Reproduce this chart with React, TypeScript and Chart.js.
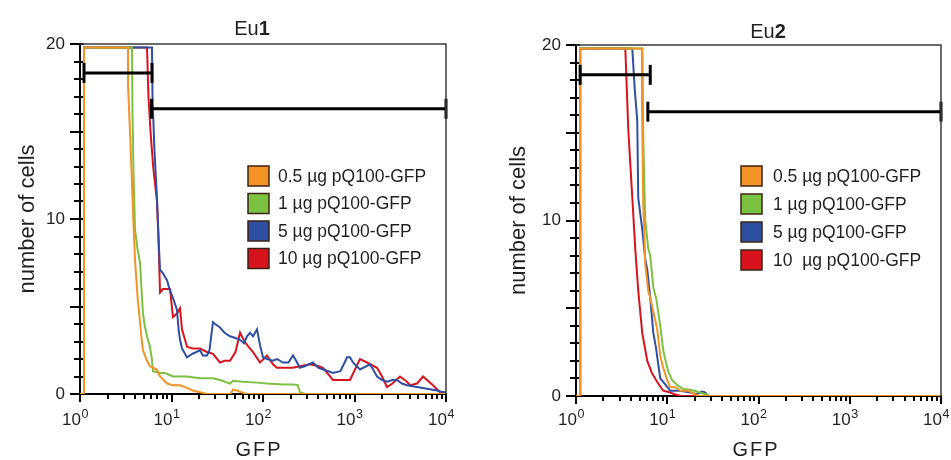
import React, { useEffect, useRef } from 'react';
import { Chart, registerables } from 'chart.js';

Chart.register(...registerables);

type Pt = [number, number];

// ---------- data ----------
const seriesLabelsEu1 = ['0.5 µg pQ100-GFP', '1 µg pQ100-GFP', '5 µg pQ100-GFP', '10 µg pQ100-GFP'];
const seriesLabelsEu2 = ['0.5 µg pQ100-GFP', '1 µg pQ100-GFP', '5 µg pQ100-GFP', '10  µg pQ100-GFP'];
const seriesColors = ['#f39325', '#7cc242', '#2f4fa2', '#d7141e'];
const xTickExponents = [0, 1, 2, 3, 4];
const yLabelValues = [0, 10, 20];

const eu1Dose05: Pt[] = [[1,0],[1.106,0],[1.106,19.8],[3.35,19.8],[3.35,17.6],[3.55,14.5],[3.7,12],[3.85,9.6],[4.0,7.6],[4.25,5.6],[4.53,4.1],[4.7,3.2],[4.88,2.5],[5.4,1.9],[5.8,1.6],[6.28,1.5],[6.9,1.4],[7.5,1.0],[8.93,0.6],[10.4,0.5],[12.4,0.5],[14.77,0.35],[17,0.2],[20.5,0.1],[24.4,0],[44,0],[47,0.25],[52,0.2],[58,0.1],[66,0],[10000,0]];
const eu1Dose1: Pt[] = [[1,0],[1.106,0],[1.106,19.8],[3.7,19.8],[3.75,16],[3.85,12.5],[3.99,9.4],[4.25,8.3],[4.53,7.5],[4.7,6],[4.88,4.6],[5.1,3.9],[5.4,3.3],[5.82,2.7],[6.1,2.0],[6.28,1.3],[7.49,1.2],[8.5,1.2],[10.38,1.0],[14.77,1.0],[20.5,0.9],[28.4,0.9],[33.9,0.8],[43.6,0.6],[47,0.75],[60,0.7],[86,0.65],[110.7,0.6],[165.5,0.55],[212.8,0.55],[240,0.5],[253.7,0.1],[290,0],[10000,0]];
const eu1Dose5: Pt[] = [[1,0],[1.106,0],[1.106,19.8],[6.12,19.8],[6.2,17],[6.5,14],[6.94,11.2],[7.2,9],[7.49,7.1],[8.07,6.9],[8.93,6.5],[9.63,5.9],[10.38,5.5],[11.48,4.8],[12.0,3.6],[12.39,3.1],[13.03,2.6],[14.77,2.1],[17,2.3],[20.5,2.5],[22,2.2],[24.4,2.2],[26,2.5],[28.4,4.1],[30,4.0],[33.9,3.8],[38,3.5],[43.6,3.3],[50,3.2],[56.1,3.1],[62,2.9],[66.9,3.3],[72.1,3.5],[77.8,3.3],[86,3.7],[92.7,2.8],[100,2.1],[110.7,2.0],[128.6,1.9],[142.2,2.0],[165.5,1.8],[190,1.8],[212.8,2.2],[230,1.9],[253.7,1.5],[290,1.6],[351.8,1.8],[400,1.5],[452.6,1.4],[520,1.3],[582,1.2],[700,1.3],[780,1.8],[828,2.1],[893,2.1],[963,1.8],[1148,1.4],[1250,1.5],[1477,1.7],[1600,1.4],[1762,1.0],[2000,0.8],[2266,0.7],[2600,0.8],[2912,0.8],[3300,0.6],[3748,0.5],[4823,0.4],[6200,0.3],[8000,0.2],[9270,0.1],[10000,0.1]];
const eu1Dose10: Pt[] = [[1,0],[1.106,0],[1.106,19.8],[5.4,19.8],[5.6,17],[5.9,15],[6.3,13],[6.94,11],[7.2,9],[7.49,5.8],[8.07,6],[9.63,6.0],[10.38,4.4],[11.48,4.6],[12.39,4.9],[13.03,3.7],[14.77,2.7],[17,2.6],[20.5,2.6],[24.4,2.4],[28.4,2.3],[33.9,1.8],[38,1.9],[43.6,1.9],[50,2.4],[56.1,3.5],[60,3.2],[66.9,2.8],[77.8,2.4],[92.7,1.8],[110.7,2.2],[128.6,1.7],[142.2,1.5],[212.8,1.5],[260,1.6],[326.3,1.7],[400,1.6],[452.6,1.5],[582,0.8],[893,0.8],[1148,2.0],[1370,1.8],[1762,1.5],[2000,1.0],[2266,0.4],[2600,0.6],[3141,1.0],[3748,0.7],[4045,0.5],[4823,0.6],[5610,1.0],[6200,0.8],[7210,0.5],[8590,0.1],[10000,0.1]];

const eu2Dose05: Pt[] = [[1,0],[1.11,0],[1.11,19.8],[5.28,19.8],[5.28,16.8],[5.4,13],[5.46,11],[5.74,7.5],[6.19,6.0],[6.51,5.6],[7.03,4.8],[7.77,3.8],[8.38,2.3],[9.04,1.6],[10,0.9],[10.78,0.5],[12.24,0.5],[14,0.3],[17,0.3],[20,0.1],[23,0],[10000,0]];
const eu2Dose1: Pt[] = [[1,0],[1.11,0],[1.11,19.8],[5.35,19.8],[5.45,15],[5.6,12.2],[5.74,10],[6.19,8.4],[6.51,8],[7.03,6.2],[7.6,5.5],[8.38,4.0],[9.04,2.6],[9.49,2.1],[10.25,1.4],[11.3,0.9],[13,0.6],[15,0.4],[18,0.35],[23,0.2],[29.5,0],[10000,0]];
const eu2Dose5: Pt[] = [[1,0],[1.11,0],[1.11,19.8],[4.14,19.8],[4.4,17.5],[4.69,15.7],[4.81,11.3],[5.32,9.5],[5.74,7.8],[6.04,7.2],[6.51,5.6],[7.03,3.6],[7.5,2.8],[8.38,1.0],[9.04,0.8],[10.78,0.3],[13.7,0.3],[18,0.2],[21,0.1],[24,0.25],[26,0.2],[28,0],[10000,0]];
const eu2Dose10: Pt[] = [[1,0],[1.11,0],[1.11,19.8],[3.47,19.8],[3.74,15.2],[4.14,11.3],[4.46,8.4],[4.81,6],[5.32,3.6],[6.04,2.0],[6.8,1.3],[7.77,0.8],[9.04,0.3],[10.78,0.2],[12,0.1],[14,0],[10000,0]];

const eu1GateLow: Pt[] = [[1.106,18.35],[6.12,18.35]];
const eu1GateHigh: Pt[] = [[6.05,16.3],[10000,16.3]];
const eu2GateLow: Pt[] = [[1.11,18.3],[6.51,18.3]];
const eu2GateHigh: Pt[] = [[6.13,16.2],[10000,16.2]];

const FONT = "'Liberation Sans', Arial, Helvetica, sans-serif";
const TEXT = '#231f20';

type PanelCfg = {
  titleMain: string;
  titleBold: string;
  titleX: number;
  titleY: number;
  xTitleX: number;
  series: Pt[][];
  labels: string[];
  gates: Pt[][];
  yAxisW: number;
  xAxisH: number;
  padRight: number;
  padTop: number;
  yTitlePad: number;
  legendX: number;
  legendY: number;
  legendStep: number;
  legendTextX: number;
  width: number;
  left: number;
};

const panels: PanelCfg[] = [
  {
    titleMain: 'Eu', titleBold: '1', titleX: 252, titleY: 29, xTitleX: 258,
    series: [eu1Dose05, eu1Dose1, eu1Dose5, eu1Dose10], labels: seriesLabelsEu1,
    gates: [eu1GateLow, eu1GateHigh],
    yAxisW: 80, xAxisH: 66, padRight: 29, padTop: 44, yTitlePad: 15,
    legendX: 248, legendY: 176, legendStep: 27.5, legendTextX: 278,
    width: 475, left: 0,
  },
  {
    titleMain: 'Eu', titleBold: '2', titleX: 293, titleY: 32, xTitleX: 280,
    series: [eu2Dose05, eu2Dose1, eu2Dose5, eu2Dose10], labels: seriesLabelsEu2,
    gates: [eu2GateLow, eu2GateHigh],
    yAxisW: 101, xAxisH: 64, padRight: 10, padTop: 45, yTitlePad: 31,
    legendX: 266, legendY: 176, legendStep: 28, legendTextX: 298,
    width: 476, left: 475,
  },
];

function Panel({ cfg }: { cfg: PanelCfg }) {
  const ref = useRef<HTMLCanvasElement | null>(null);
  useEffect(() => {
    const canvas = ref.current!;
    const datasets: any[] = [];
    cfg.gates.forEach((g) => {
      datasets.push({
        label: '_gate',
        data: g.map(([x, y]) => ({ x, y })),
        borderColor: '#000',
        borderWidth: 3,
        pointStyle: 'line',
        pointRadius: 10,
        pointRotation: 90,
        pointBorderWidth: 3,
        pointBorderColor: '#000',
        pointBackgroundColor: '#000',
        clip: false,
        order: -1,
      });
    });
    cfg.series.forEach((s, i) => {
      datasets.push({
        label: cfg.labels[i],
        data: s.map(([x, y]) => ({ x, y })),
        borderColor: seriesColors[i],
        borderWidth: 2,
        pointRadius: 0,
        tension: 0,
        fill: false,
        order: i,
      });
    });

    const decor = {
      id: 'decor',
      beforeDatasetsDraw(chart: any) {
        const ctx = chart.ctx as CanvasRenderingContext2D;
        const a = chart.chartArea;
        const xs = chart.scales.x;
        const ys = chart.scales.y;
        ctx.save();
        ctx.strokeStyle = '#000';
        ctx.lineWidth = 2;
        ctx.beginPath();
        for (let v = 0; v <= 20; v++) {
          const y = Math.round(ys.getPixelForValue(v));
          const len = v % 5 === 0 ? 10 : 6;
          ctx.moveTo(a.left - len, y);
          ctx.lineTo(a.left + 4, y);
        }
        for (let d = 0; d < 4; d++) {
          for (let m = 1; m <= 10; m++) {
            const px = Math.round(xs.getPixelForValue(m * Math.pow(10, d)));
            const len = m === 1 || m === 10 ? 8 : 5;
            ctx.moveTo(px, a.bottom);
            ctx.lineTo(px, a.bottom + len);
          }
        }
        ctx.stroke();
        ctx.restore();
      },
      afterDraw(chart: any) {
        const ctx = chart.ctx as CanvasRenderingContext2D;
        const a = chart.chartArea;
        const xs = chart.scales.x;
        ctx.save();
        // frame top and right
        ctx.strokeStyle = '#3a3a3a';
        ctx.lineWidth = 1.5;
        ctx.beginPath();
        ctx.moveTo(a.left, a.top);
        ctx.lineTo(a.right, a.top);
        ctx.lineTo(a.right, a.bottom);
        ctx.stroke();
        // x tick labels with superscript exponents
        ctx.fillStyle = TEXT;
        ctx.textBaseline = 'alphabetic';
        xTickExponents.forEach((e) => {
          const px = xs.getPixelForValue(Math.pow(10, e));
          ctx.font = `17px ${FONT}`;
          ctx.textAlign = 'right';
          ctx.fillText('10', px + 1, 425);
          ctx.font = `12.5px ${FONT}`;
          ctx.textAlign = 'left';
          ctx.fillText(String(e), px + 1.5, 418);
        });
        // x title
        ctx.font = `20px ${FONT}`;
        (ctx as any).letterSpacing = '2px';
        ctx.textAlign = 'center';
        ctx.textBaseline = 'middle';
        ctx.fillText('GFP', cfg.xTitleX + 1, 450);
        (ctx as any).letterSpacing = '0px';
        // title
        ctx.font = `20px ${FONT}`;
        const w1 = ctx.measureText(cfg.titleMain).width;
        ctx.font = `bold 20px ${FONT}`;
        const w2 = ctx.measureText(cfg.titleBold).width;
        const x0 = cfg.titleX - (w1 + w2) / 2;
        ctx.textAlign = 'left';
        ctx.font = `20px ${FONT}`;
        ctx.fillText(cfg.titleMain, x0, cfg.titleY);
        ctx.font = `bold 20px ${FONT}`;
        ctx.fillText(cfg.titleBold, x0 + w1, cfg.titleY);
        // legend
        ctx.font = `17.5px ${FONT}`;
        cfg.labels.forEach((lab, i) => {
          const cy = cfg.legendY + i * cfg.legendStep;
          ctx.fillStyle = seriesColors[i];
          ctx.fillRect(cfg.legendX, cy - 10, 21, 20);
          ctx.strokeStyle = '#3b2314';
          ctx.lineWidth = 1.5;
          ctx.strokeRect(cfg.legendX, cy - 10, 21, 20);
          ctx.fillStyle = TEXT;
          ctx.fillText(lab, cfg.legendTextX, cy + 1);
        });
        ctx.restore();
      },
    };

    const chart = new Chart(canvas, {
      type: 'line',
      data: { datasets },
      options: {
        animation: false,
        responsive: false,
        parsing: false as any,
        layout: {
          autoPadding: false,
          padding: { left: 0, right: cfg.padRight, top: cfg.padTop, bottom: 0 },
        },
        plugins: { legend: { display: false }, tooltip: { enabled: false }, title: { display: false } },
        scales: {
          x: {
            type: 'logarithmic',
            min: 1,
            max: 10000,
            afterFit: (s: any) => { s.height = cfg.xAxisH; },
            ticks: {
              autoSkip: false,
              maxRotation: 0,
              minRotation: 0,
              callback: () => '',
            },
            grid: { drawOnChartArea: false, drawTicks: false },
            border: { display: true, color: '#000', width: 2 },
            title: { display: false },
          },
          y: {
            min: 0,
            max: 20,
            afterFit: (s: any) => { s.width = cfg.yAxisW; },
            ticks: {
              stepSize: 1,
              autoSkip: false,
              padding: 15,
              color: TEXT,
              font: { family: FONT, size: 17 },
              callback: (v: any) => (yLabelValues.includes(Number(v)) ? String(v) : ''),
            },
            grid: { drawOnChartArea: false, drawTicks: false },
            border: { display: true, color: '#000', width: 2 },
            title: { display: true, text: 'number of cells', color: TEXT, font: { family: FONT, size: 22 }, padding: { top: cfg.yTitlePad, bottom: 0 } },
          },
        },
      },
      plugins: [decor],
    } as any);
    return () => chart.destroy();
  }, [cfg]);
  return (
    <div style={{ position: 'absolute', left: cfg.left, top: 0, width: cfg.width, height: 460 }}>
      <canvas ref={ref} width={cfg.width} height={460} style={{ width: cfg.width, height: 460, display: 'block' }} />
    </div>
  );
}

export default function App() {
  useEffect(() => {
    document.body.style.margin = '0';
    document.body.style.background = '#ffffff';
  }, []);
  return (
    <div style={{ position: 'relative', width: 951, height: 460, background: '#fff', overflow: 'hidden' }}>
      {panels.map((p, i) => (
        <Panel key={i} cfg={p} />
      ))}
    </div>
  );
}
